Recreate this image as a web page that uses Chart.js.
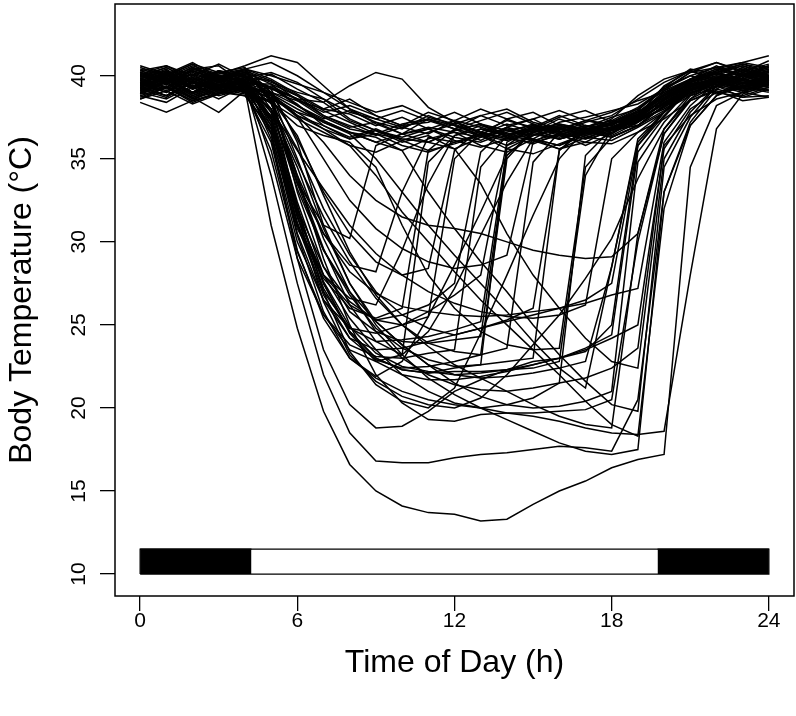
<!DOCTYPE html>
<html lang="en">
<head>
<meta charset="UTF-8">
<title>Body Temperature over the Day</title>
<script src="https://cdn.jsdelivr.net/npm/chart.js"></script>
<style>
  body { margin: 0; background: #fff; }
  #wrap { width: 796px; height: 716px; }
</style>
</head>
<body>
<div id="wrap"><canvas id="tbChart" width="796" height="716"></canvas></div>
<script>
// sampling times (h) shared by every day record
const hours = [0,1,2,3,4,5,6,7,8,9,10,11,12,13,14,15,16,17,18,19,20,21,22,23,24];
const xTicks = [0, 6, 12, 18, 24];
const yTicks = [10, 15, 20, 25, 30, 35, 40];

// light / dark bar
const dayStart = 0, dayEnd = 24;
const lightsOn = 4.25, lightsOff = 19.75;
const barLow = 10, barHigh = 11.5;

// days without torpor
const normalDays = [
  [39.8,40.4,39.3,40.3,39.7, 39.2,38.6,37.6,37.0,36.4, 36.9,37.4,36.8,36.1,36.9, 37.4,36.6,36.9,37.5,38.0, 39.1,39.8,40.6,39.9,40.3],
  [39.0,39.6,40.1,39.2,39.9, 38.9,37.6,37.0,36.2,36.7, 36.0,36.4,35.6,36.3,36.9, 36.2,35.8,36.6,37.2,37.4, 38.6,39.5,39.8,40.5,39.7],
  [40.5,40.0,40.7,39.6,40.4, 40.8,40.0,39.0,38.0,37.1, 36.5,37.4,37.0,36.4,37.4, 37.8,37.0,36.6,37.4,38.8, 39.8,40.3,40.8,40.2,40.9],
  [38.6,39.3,38.7,37.8,39.1, 38.4,37.4,36.6,35.8,35.4, 36.1,35.5,35.9,36.4,35.6, 35.3,35.9,36.5,36.9,37.2, 38.1,39.0,39.4,38.7,38.8],
  [39.6,39.0,39.9,39.1,38.8, 39.4,38.6,37.8,38.2,37.6, 37.0,37.2,37.8,37.1,36.7, 36.4,37.2,37.5,37.9,38.3, 39.2,40.2,40.5,40.1,40.6],
  [40.2,39.5,40.4,40.6,39.5, 40.1,39.2,38.4,37.3,36.7, 36.2,36.0,36.7,37.1,36.3, 35.9,36.5,35.8,36.5,37.6, 39.4,40.3,39.7,40.5,40.0],
  [39.3,40.0,39.4,38.9,39.9, 39.3,38.3,37.0,36.3,36.8, 36.1,36.6,37.1,36.4,35.8, 36.4,36.9,36.3,36.1,36.9, 37.8,39.1,39.8,39.1,39.5],
  [39.9,40.5,39.6,40.1,40.6, 41.2,40.8,39.4,38.0,37.4, 37.9,37.3,36.8,37.6,38.0, 37.2,36.8,37.3,37.8,38.5, 39.0,39.6,40.2,40.7,40.2],
  [38.4,37.8,38.5,38.9,39.4, 38.6,37.8,37.3,36.6,36.0, 35.5,36.2,36.6,35.8,35.4, 36.2,35.6,36.0,35.9,36.6, 37.4,38.5,39.1,38.5,38.7],
  [40.6,40.1,40.8,39.9,40.4, 39.8,38.9,38.0,37.7,37.0, 37.5,36.8,37.3,36.5,37.1, 36.6,37.4,36.9,37.3,38.1, 39.2,40.0,40.5,40.8,41.2],
  [39.7,39.3,40.2,39.6,40.0, 39.3,38.6,38.4,39.4,40.2, 39.8,38.1,37.2,36.6,36.3, 36.9,36.4,36.0,36.8,37.7, 38.7,39.5,40.0,39.5,40.0],
  [38.9,39.7,39.0,39.9,39.3, 38.9,38.0,37.2,36.6,36.0, 36.5,36.8,36.1,35.7,36.2, 36.8,36.2,36.6,37.1,37.6, 38.5,39.4,39.8,39.3,39.8],
  [40.2,39.7,40.5,39.8,40.4, 40.0,39.5,39.0,38.4,37.8, 38.2,37.5,37.1,37.6,37.0, 37.4,37.9,37.3,37.1,37.8, 38.9,39.8,40.2,40.6,40.0],
  [39.2,39.8,38.9,39.6,39.1, 38.7,37.6,36.8,36.2,36.5, 35.8,35.4,36.0,36.4,36.8, 36.1,35.6,36.3,36.7,37.0, 37.9,38.8,39.3,39.8,39.3],
  [39.5,40.2,39.6,40.3,39.5, 39.5,38.8,37.9,37.2,36.5, 37.1,37.4,36.8,37.3,37.8, 37.1,36.6,37.2,37.6,38.6, 39.6,40.3,39.8,40.4,39.9],
  [38.8,38.4,39.3,38.6,39.4, 39.0,38.5,38.0,38.6,37.6, 37.0,37.8,37.3,38.0,37.4, 36.8,37.5,37.9,37.2,37.9, 38.3,39.2,39.7,39.1,39.7],
  [40.3,40.6,40.0,40.7,39.9, 40.2,39.6,38.6,37.4,36.7, 36.3,36.8,36.3,36.0,36.6, 37.1,36.5,36.2,36.9,37.5, 39.1,40.2,40.8,40.3,40.7],
  [39.6,39.2,40.0,39.4,39.9, 39.7,38.8,37.6,36.9,37.2, 36.5,36.0,36.7,37.1,36.5, 36.2,35.8,36.4,36.8,37.3, 38.1,39.2,39.6,40.1,39.6],
  [39.1,39.7,39.3,40.0,39.6, 39.0,38.2,37.4,37.9,37.2, 36.8,37.6,37.0,36.6,37.3, 36.9,37.6,37.0,36.7,37.3, 38.0,38.9,39.7,39.3,39.9],
  [40.0,39.6,40.3,39.7,40.2, 39.6,39.0,38.6,37.8,37.4, 36.9,36.5,37.3,36.9,36.4, 37.0,36.7,37.3,37.0,37.9, 39.3,40.4,40.1,40.6,40.2]
];

// torpor bouts ending before noon
const shortBouts = [
  [39.0,39.6,38.6,39.2,39.7, 37.0,31.0,28.0,26.6,26.2, 29.5,33.5,36.4,37.0,36.5, 36.8,37.1,36.7,37.0,37.8, 38.8,39.5,39.0,39.4,39.1],
  [39.7,40.2,39.3,39.9,40.4, 38.6,33.5,30.5,28.6,28.2, 33.0,36.3,36.0,36.5,36.2, 36.0,36.4,36.7,36.3,37.0, 38.2,39.4,39.9,39.5,39.8],
  [39.3,39.8,38.8,39.5,39.0, 36.5,30.8,27.8,26.0,25.4, 26.0,35.5,36.8,36.4,36.1, 36.5,36.2,36.6,36.9,37.4, 38.3,39.2,39.7,39.3,39.6],
  [39.4,38.8,39.7,39.2,39.6, 37.8,33.6,31.0,30.2,35.8, 36.5,36.9,36.6,36.3,36.7, 37.0,36.6,36.2,36.6,37.2, 38.5,39.4,39.9,39.6,40.0],
  [39.5,40.1,39.2,39.6,39.1, 37.0,31.5,28.0,26.2,25.3, 25.0,25.5,35.0,36.6,36.2, 36.6,36.9,36.5,36.8,37.3, 38.4,39.2,39.6,39.2,39.5],
  [39.0,39.3,38.5,39.4,39.1, 35.5,29.4,25.6,23.5,22.8, 23.2,34.8,36.4,36.8,36.4, 36.1,36.5,36.8,36.4,37.2, 38.4,39.4,38.9,39.3,39.0],
  [40.0,39.5,40.3,39.8,40.2, 39.0,36.2,33.0,30.5,28.8, 28.0,28.4,35.5,36.8,36.4, 36.7,37.0,36.6,36.3,37.0, 38.2,39.3,39.9,40.3,39.9]
];

// torpor bouts ending early afternoon
const midBouts = [
  [39.4,39.9,39.0,39.9,39.5, 37.5,31.5,27.2,24.6,23.0, 22.3,22.1,22.4,22.6,35.8, 36.9,36.5,36.8,37.2,38.0, 39.3,40.0,39.6,40.1,39.7],
  [40.2,39.8,40.5,40.0,39.7, 35.0,29.0,25.6,23.8,23.1, 23.0,23.3,23.5,34.5,36.4, 36.9,36.6,37.0,36.7,37.6, 38.9,39.7,40.2,39.8,40.3],
  [39.2,38.7,39.6,39.0,39.3, 38.0,33.5,29.5,26.8,24.8, 23.6,22.9,22.5,22.6,22.8, 23.0,35.5,36.8,37.1,37.6, 38.7,39.6,40.0,39.7,40.2],
  [40.4,40.0,40.7,40.2,40.5, 39.0,33.0,28.5,25.8,24.6, 24.0,23.9,24.1,24.3,35.2, 36.6,37.0,36.6,36.9,37.5, 38.6,39.6,40.3,40.7,40.4],
  [39.9,40.3,39.6,40.3,40.0, 37.2,30.5,26.5,24.2,22.9, 22.4,22.5,22.8,23.2,35.0, 36.7,36.3,36.7,37.2,37.8, 39.0,39.8,40.4,40.0,40.6],
  [38.9,39.4,38.6,39.1,39.4, 38.6,36.4,32.8,29.4,26.8, 25.0,23.9,23.4,23.2,23.6, 34.8,36.6,37.0,36.7,37.3, 38.4,39.3,39.8,39.5,39.9],
  [39.8,40.3,39.5,40.0,39.7, 36.2,30.0,26.5,24.8,24.5, 25.0,25.8,26.8,28.0,36.0, 36.8,37.1,36.8,36.5,37.4, 38.6,39.6,40.1,39.7,40.1],
  [39.3,38.8,39.6,39.1,39.4, 38.8,37.5,35.0,32.5,30.8, 29.6,28.8,28.4,28.6,29.2, 36.0,36.8,36.4,36.8,37.4, 38.3,39.2,39.6,39.3,39.7],
  [39.4,39.8,39.0,39.6,39.3, 36.8,31.2,27.0,24.8,24.0, 24.1,24.3,24.7,25.2,35.6, 36.4,36.8,36.5,36.9,37.6, 38.8,39.7,40.1,39.6,40.0],
  [39.2,39.7,38.9,39.4,39.7, 37.4,32.0,28.5,26.4,25.3, 25.6,26.2,27.5,35.4,36.9, 36.5,36.2,36.6,36.9,37.3, 38.3,39.1,39.5,39.1,39.5],
  [39.0,39.5,38.7,39.2,38.9, 38.4,35.6,32.0,29.2,27.0, 25.6,24.8,24.4,24.8,25.3, 26.0,35.5,36.9,37.3,37.0, 38.2,39.0,39.5,39.1,39.4],
  [39.5,40.1,39.2,39.8,39.4, 36.6,30.4,25.8,23.0,21.9, 22.8,25.5,28.6,31.8,35.2, 36.6,36.2,36.7,37.1,37.7, 38.8,39.7,40.2,39.6,40.0],
  [40.1,39.5,40.4,39.9,40.3, 38.4,33.8,29.6,26.2,24.0, 23.2,24.6,27.2,30.4,33.6, 36.2,37.0,36.6,36.9,37.6, 38.9,39.8,40.3,40.0,40.5],
  [39.0,38.6,39.4,38.8,39.2, 37.6,32.2,27.0,23.4,21.4, 20.4,20.0,21.2,24.5,28.0, 31.6,35.0,36.8,37.1,37.5, 38.6,39.4,39.9,39.4,39.8]
];

// torpor bouts lasting into the evening
const longBouts = [
  [39.6,40.0,39.2,39.7,39.2, 31.0,24.8,19.8,16.6,15.0, 14.1,13.7,13.6,13.2,13.3, 14.2,15.0,15.6,16.4,16.9, 17.2,34.5,38.2,39.0,39.6],
  [39.3,38.8,39.7,39.1,39.5, 34.0,27.5,22.0,18.5,16.8, 16.7,16.7,17.0,17.2,17.3, 17.5,17.7,17.6,17.4,20.5, 33.0,37.0,38.8,39.4,39.1],
  [40.0,39.5,40.3,39.8,40.1, 36.5,29.0,23.5,20.2,18.8, 18.9,19.8,21.0,21.7,22.3, 22.8,23.0,23.4,25.0,35.8, 37.6,39.2,39.8,40.2,39.8],
  [39.1,39.6,38.7,39.4,39.0, 38.5,34.0,29.0,25.0,22.0, 20.3,19.3,19.2,19.6,19.7, 19.7,19.8,19.9,20.5,30.0, 36.5,38.5,39.2,38.8,39.3],
  [39.5,39.0,39.8,39.3,39.8, 39.2,36.0,31.0,27.5,25.2, 23.8,22.6,22.0,21.8,21.9, 22.1,22.4,22.8,28.5,36.2, 37.8,39.2,39.8,39.4,39.7],
  [38.7,39.3,38.4,39.0,38.8, 36.8,31.8,27.5,24.5,22.8, 22.0,21.7,21.7,21.9,22.2, 22.6,23.0,23.5,24.2,25.0, 35.6,38.0,39.0,38.7,39.2],
  [39.6,40.2,39.3,39.8,39.5, 38.8,37.8,36.8,35.8,34.0, 31.8,30.0,28.2,26.5,25.0, 23.5,22.0,20.4,19.0,18.3, 32.0,37.0,38.8,39.6,39.3],
  [40.1,39.6,40.4,39.9,40.2, 39.5,38.2,37.3,36.6,36.3, 35.5,33.0,30.8,28.8,27.0, 25.0,23.2,21.6,20.2,19.8, 34.5,37.5,39.4,40.0,40.4],
  [40.0,39.5,40.3,39.7,40.1, 38.0,33.2,29.5,27.0,25.2, 23.8,22.6,21.5,20.7,20.2, 20.0,20.1,20.4,21.0,34.8, 37.2,38.9,39.6,40.0,39.7],
  [39.1,39.6,38.8,39.3,39.0, 38.4,37.0,36.4,36.0,34.5, 31.0,28.0,26.0,24.6,23.8, 23.5,23.6,34.5,36.3,37.0, 38.2,39.1,39.6,39.2,39.5],
  [40.3,39.9,40.6,40.1,40.4, 38.5,32.0,27.5,24.6,23.0, 22.3,22.1,22.2,22.2,22.3, 22.4,22.8,34.0,36.8,37.5, 38.6,39.8,40.4,40.8,40.5],
  [38.6,39.1,38.3,38.9,39.2, 38.0,34.5,30.2,27.0,24.6, 23.0,22.0,21.4,21.1,21.0, 21.2,21.5,21.8,22.4,23.6, 35.8,37.6,38.6,39.0,38.7],
  [40.0,40.5,39.7,40.2,39.9, 37.5,31.0,26.8,24.2,23.5, 23.6,24.0,24.4,24.8,25.2, 25.6,26.0,26.5,27.5,35.8, 37.8,39.6,40.2,39.8,40.2],
  [39.7,40.2,39.4,39.9,40.2, 38.6,34.0,30.5,28.2,26.9, 26.1,25.8,25.6,25.5,25.6, 25.8,26.0,26.3,26.8,27.2, 36.0,38.2,39.6,40.0,39.7],
  [40.2,39.7,40.5,40.0,40.3, 39.7,38.5,37.5,36.8,36.5, 36.2,36.0,35.6,33.5,30.5, 28.0,26.0,24.2,22.8,22.4, 35.0,37.8,39.4,40.2,39.9],
  [39.8,39.3,40.1,39.6,39.9, 37.8,32.4,28.0,25.4,23.5, 22.0,21.0,20.3,20.0,20.2, 20.6,21.5,35.2,36.8,37.4, 38.6,39.6,40.2,39.8,40.3],
  [39.6,39.1,39.9,39.4,39.7, 38.3,34.8,31.5,28.8,26.6, 25.0,23.7,22.6,21.8,21.0, 20.2,19.5,19.0,18.8,30.5, 36.8,38.8,39.6,39.3,39.6],
  [40.1,40.6,39.8,40.3,40.0, 38.9,35.0,30.8,27.5,25.0, 23.2,21.8,20.8,20.0,19.3, 18.6,17.9,17.4,17.2,17.5, 33.0,37.2,39.2,40.0,40.4],
  [39.5,39.9,39.2,39.7,39.4, 38.9,37.6,36.0,34.0,32.5, 31.5,31.0,30.8,30.5,30.0, 29.5,29.2,29.0,29.1,30.5, 36.5,38.6,39.8,39.4,39.8],
  [39.3,39.8,39.0,39.5,39.0, 36.0,29.5,25.4,23.0,21.8, 21.0,20.5,20.2,20.0,19.7, 19.5,19.2,18.8,18.5,18.4, 18.6,28.0,36.8,38.9,39.5],
  [38.8,39.3,38.5,39.0,39.3, 38.0,35.5,33.2,31.0,29.3, 28.0,27.0,26.3,25.8,25.5, 25.4,25.6,26.2,35.0,36.6, 37.8,39.0,39.4,39.0,39.3],
  [39.6,40.1,39.3,39.8,39.5, 37.2,31.8,27.6,24.9,23.3, 22.5,22.2,22.0,22.1,22.3, 22.6,23.0,23.6,24.4,35.4, 37.5,39.3,39.9,39.5,39.9],
  [39.4,39.9,39.0,39.6,39.2, 37.4,31.6,26.4,23.2,21.6, 20.7,20.2,20.0,20.6,22.0, 23.8,25.6,27.8,30.2,33.8, 36.8,38.6,39.4,39.8,39.4],
  [39.8,40.3,39.5,40.0,39.6, 39.3,38.2,37.2,36.5,35.0, 33.0,31.0,29.2,27.5,25.8, 24.0,22.4,21.2,28.5,36.0, 37.8,39.3,39.8,40.3,40.0]
];

const FONT = '"Liberation Sans", Arial, Helvetica, sans-serif';

const allDays = normalDays.concat(shortBouts, midBouts, longBouts);
const daySets = allDays.map(vals => ({
    data: vals.map((v, i) => ({ x: hours[i], y: v })),
    borderColor: '#000',
    borderWidth: 1.5,
    pointRadius: 0,
    fill: false
}));

// dark phases filled, whole bar outlined
const barSets = [
    {
        data: [{ x: dayStart, y: barHigh }, { x: lightsOn, y: barHigh }],
        fill: { value: barLow },
        backgroundColor: '#000', borderColor: '#000', borderWidth: 1.3, pointRadius: 0
    },
    {
        data: [{ x: lightsOff, y: barHigh }, { x: dayEnd, y: barHigh }],
        fill: { value: barLow },
        backgroundColor: '#000', borderColor: '#000', borderWidth: 1.3, pointRadius: 0
    },
    {
        data: [
            { x: dayStart, y: barLow }, { x: dayEnd, y: barLow }, { x: dayEnd, y: barHigh },
            { x: dayStart, y: barHigh }, { x: dayStart, y: barLow }
        ],
        fill: false, borderColor: '#000', borderWidth: 1.3, pointRadius: 0
    }
];

// box around the plot region
const frameBox = {
    id: 'frameBox',
    afterDraw(chart) {
        const { ctx, chartArea: a } = chart;
        ctx.save();
        ctx.strokeStyle = '#000';
        ctx.lineWidth = 1.5;
        ctx.strokeRect(a.left, a.top, a.right - a.left, a.bottom - a.top);
        ctx.restore();
    }
};

const tickGrid = { drawOnChartArea: false, drawTicks: true, tickLength: 15, color: '#000', lineWidth: 1.3 };

new Chart(document.getElementById('tbChart'), {
    type: 'line',
    data: { datasets: daySets.concat(barSets) },
    options: {
        responsive: false,
        animation: false,
        layout: { padding: { top: 4, right: 2, left: 0, bottom: 0 } },
        plugins: { legend: { display: false }, tooltip: { enabled: false } },
        scales: {
            x: {
                type: 'linear', min: -0.96, max: 24.96,
                afterBuildTicks: s => { s.ticks = xTicks.map(v => ({ value: v })); },
                afterFit: s => { s.height = 120; s.paddingLeft = 0; s.paddingRight = 0; },
                grid: tickGrid,
                border: { display: false },
                ticks: { color: '#000', font: { family: FONT, size: 21 }, padding: -2, maxRotation: 0, autoSkip: false },
                title: {
                    display: true, text: 'Time of Day (h)', color: '#000',
                    font: { family: FONT, size: 32 }, padding: { top: 0, bottom: 34 }
                }
            },
            y: {
                type: 'linear', min: 8.68, max: 44.32,
                afterBuildTicks: s => { s.ticks = yTicks.map(v => ({ value: v })); },
                afterFit: s => { s.width = 115; s.paddingTop = 0; s.paddingBottom = 0; },
                grid: tickGrid,
                border: { display: false },
                ticks: {
                    color: '#000', font: { family: FONT, size: 21 }, padding: 9,
                    minRotation: 90, maxRotation: 90, crossAlign: 'center', autoSkip: false
                },
                title: {
                    display: true, text: 'Body Temperature (°C)', color: '#000',
                    font: { family: FONT, size: 32 }, padding: { top: 3, bottom: 0 }
                }
            }
        }
    },
    plugins: [frameBox]
});
</script>
</body>
</html>
